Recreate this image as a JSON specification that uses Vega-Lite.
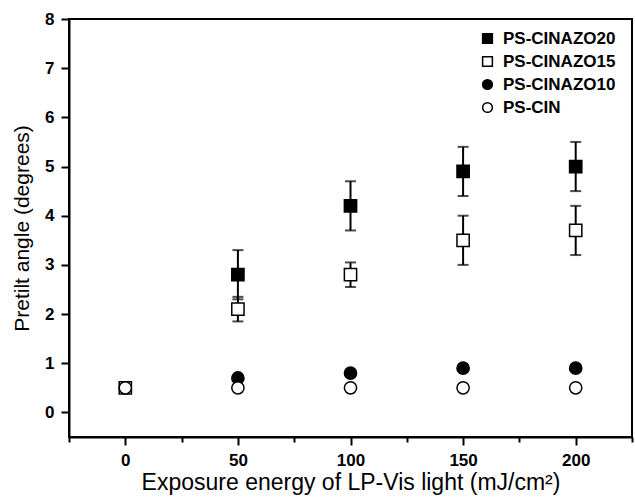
{
  "$schema": "https://vega.github.io/schema/vega-lite/v6.json",
  "width": 563,
  "height": 418,
  "autosize": {"type": "none"},
  "padding": {"left": 69, "top": 19, "right": 3, "bottom": 61},
  "background": "white",
  "config": {
    "view": {"stroke": "black", "strokeWidth": 2},
    "font": "Liberation Sans",
    "axis": {
      "grid": false,
      "domainColor": "black",
      "domainWidth": 2,
      "tickColor": "black",
      "tickWidth": 2,
      "labelFont": "Liberation Sans",
      "labelFontWeight": "bold",
      "labelFontSize": 17,
      "labelColor": "black",
      "titleFont": "Liberation Sans",
      "titleFontWeight": "normal",
      "titleFontSize": 21,
      "titleColor": "black"
    }
  },
  "data": {
    "values": [
      {"series": "PS-CINAZO15", "energy": 0, "angle": 0.5, "err": 0.1},
      {"series": "PS-CIN", "energy": 0, "angle": 0.5},
      {"series": "PS-CINAZO20", "energy": 50, "angle": 2.8, "err": 0.5},
      {"series": "PS-CINAZO20", "energy": 100, "angle": 4.2, "err": 0.5},
      {"series": "PS-CINAZO20", "energy": 150, "angle": 4.9, "err": 0.5},
      {"series": "PS-CINAZO20", "energy": 200, "angle": 5.0, "err": 0.5},
      {"series": "PS-CINAZO15", "energy": 50, "angle": 2.1, "err": 0.25},
      {"series": "PS-CINAZO15", "energy": 100, "angle": 2.8, "err": 0.25},
      {"series": "PS-CINAZO15", "energy": 150, "angle": 3.5, "err": 0.5},
      {"series": "PS-CINAZO15", "energy": 200, "angle": 3.7, "err": 0.5},
      {"series": "PS-CINAZO10", "energy": 50, "angle": 0.7},
      {"series": "PS-CINAZO10", "energy": 100, "angle": 0.8},
      {"series": "PS-CINAZO10", "energy": 150, "angle": 0.9},
      {"series": "PS-CINAZO10", "energy": 200, "angle": 0.9},
      {"series": "PS-CIN", "energy": 50, "angle": 0.5},
      {"series": "PS-CIN", "energy": 100, "angle": 0.5},
      {"series": "PS-CIN", "energy": 150, "angle": 0.5},
      {"series": "PS-CIN", "energy": 200, "angle": 0.5}
    ]
  },
  "encoding": {
    "x": {
      "field": "energy",
      "type": "quantitative",
      "scale": {"domain": [-25, 225], "nice": false, "zero": false},
      "axis": {
        "title": "Exposure energy of LP-Vis light (mJ/cm²)",
        "titleFontSize": 23,
        "values": [-25, 0, 25, 50, 75, 100, 125, 150, 175, 200, 225],
        "format": "d",
        "labelExpr": "(datum.value % 50 === 0 && datum.value >= 0 && datum.value <= 200) ? datum.label : ''",
        "tickSize": {"condition": {"test": "datum.value % 50 === 0", "value": 8}, "value": 5},
        "labelPadding": 7,
        "titlePadding": 3
      }
    },
    "y": {
      "field": "angle",
      "type": "quantitative",
      "scale": {"domain": [-0.5, 8], "nice": false, "zero": false},
      "axis": {
        "title": "Pretilt angle (degrees)",
        "values": [0, 0.5, 1, 1.5, 2, 2.5, 3, 3.5, 4, 4.5, 5, 5.5, 6, 6.5, 7, 7.5, 8],
        "format": "d",
        "labelExpr": "datum.value % 1 === 0 ? datum.label : ''",
        "tickSize": {"condition": {"test": "datum.value % 1 === 0", "value": 8}, "value": 5},
        "labelPadding": 7,
        "titlePadding": 12
      }
    }
  },
  "layer": [
    {
      "transform": [{"filter": "isValid(datum.err)"}],
      "mark": {"type": "errorbar", "ticks": {"size": 11}, "color": "black", "thickness": 2},
      "encoding": {
        "y": {"field": "angle", "type": "quantitative"},
        "yError": {"field": "err"}
      }
    },
    {
      "mark": {"type": "point", "filled": false, "stroke": "black", "strokeWidth": 1.5, "opacity": 1},
      "encoding": {
        "shape": {
          "field": "series",
          "type": "nominal",
          "scale": {"domain": ["PS-CINAZO20", "PS-CINAZO15", "PS-CINAZO10", "PS-CIN"], "range": ["square", "square", "circle", "circle"]},
          "legend": {
            "title": null,
            "orient": "none",
            "legendX": 410,
            "legendY": 11,
            "symbolSize": 95,
            "labelFont": "Liberation Sans",
            "labelFontWeight": "bold",
            "labelFontSize": 17,
            "labelColor": "black",
            "rowPadding": 5,
            "labelOffset": 7,
            "padding": 0,
            "encode": {"symbols": {"update": {"stroke": {"value": "black"}, "strokeWidth": {"value": 1.3}}}}
          }
        },
        "fill": {
          "field": "series",
          "type": "nominal",
          "scale": {"domain": ["PS-CINAZO20", "PS-CINAZO15", "PS-CINAZO10", "PS-CIN"], "range": ["black", "white", "black", "white"]},
          "legend": {
            "title": null,
            "orient": "none",
            "legendX": 410,
            "legendY": 11,
            "symbolSize": 95,
            "labelFont": "Liberation Sans",
            "labelFontWeight": "bold",
            "labelFontSize": 17,
            "labelColor": "black",
            "rowPadding": 5,
            "labelOffset": 7,
            "padding": 0,
            "encode": {"symbols": {"update": {"stroke": {"value": "black"}, "strokeWidth": {"value": 1.3}}}}
          }
        },
        "size": {"value": 150}
      }
    }
  ]
}
